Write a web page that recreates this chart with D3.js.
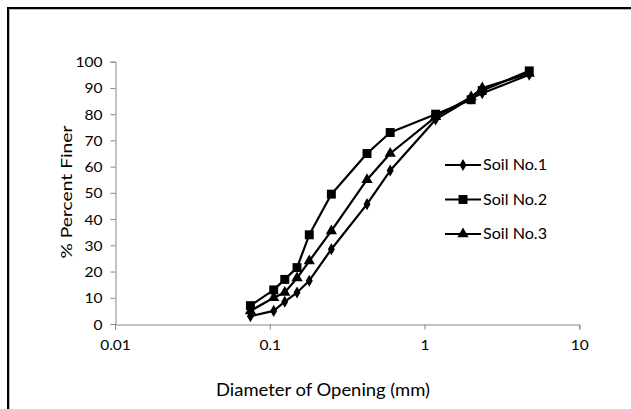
<!DOCTYPE html>
<html>
<head>
<meta charset="utf-8">
<script src="https://cdn.jsdelivr.net/npm/d3@7"></script>
<style>
  body { margin: 0; background: #fff; }
  svg { display: block; }
  text { font-family: Lato, "Open Sans", sans-serif; fill: #000; }
</style>
</head>
<body>
<svg id="chart" width="631" height="409"></svg>
<script>
// Sieve openings (mm) and cumulative percent passing for each soil
const sieveSizes = [0.075, 0.106, 0.125, 0.15, 0.18, 0.25, 0.425, 0.6, 1.18, 2.0, 2.36, 4.75];
const soil1 = [3, 5, 8.5, 12, 16.5, 28.5, 45.7, 58.5, 78, 86, 88, 95];
const soil2 = [7, 13, 17, 21.5, 34, 49.5, 65, 73, 80, 85.5, 89, 96.5];
const soil3 = [5, 10, 12, 17.5, 24, 35.5, 55, 65, 79, 86.5, 90, 95.5];
const seriesNames = ["Soil No.1", "Soil No.2", "Soil No.3"];
const xTickValues = [0.01, 0.1, 1, 10];
const xTickLabels = ["0.01", "0.1", "1", "10"];
const yTickValues = [0, 10, 20, 30, 40, 50, 60, 70, 80, 90, 100];
const xTitle = "Diameter of Opening (mm)";
const yTitle = "% Percent Finer";

const svg = d3.select("#chart");

// outer chart frame (top and left edges visible)
svg.append("path")
  .attr("d", "M9.5,409 V9.5 H631")
  .attr("fill", "none").attr("stroke", "#bbb").attr("stroke-width", 1);
svg.append("path")
  .attr("d", "M8,409 V8 H631")
  .attr("fill", "none").attr("stroke", "#000").attr("stroke-width", 2);

const x = d3.scaleLog().domain([0.01, 10]).range([115, 579.3]);
const y = d3.scaleLinear().domain([0, 100]).range([324, 61.7]);

const axisColor = "#868686";
const sx = 1.11; // horizontal widening of tick labels

// y axis
const gy = svg.append("g").attr("transform", "translate(115.5,0)")
  .call(d3.axisLeft(y).tickValues(yTickValues).tickSize(5).tickPadding(0).tickFormat(d3.format("d")));
gy.select(".domain").attr("stroke", axisColor);
gy.selectAll(".tick line").attr("stroke", axisColor);
gy.selectAll(".tick text")
  .attr("font-size", 14).attr("font-family", "Lato, sans-serif").attr("fill", "#000")
  .attr("x", -13 / sx).attr("dy", "0.36em")
  .attr("transform", `scale(${sx},1)`);

// x axis
const gx = svg.append("g").attr("transform", "translate(0,324.5)")
  .call(d3.axisBottom(x).tickValues(xTickValues).tickSize(5).tickPadding(0)
    .tickFormat((d, i) => xTickLabels[i]));
gx.select(".domain").attr("stroke", axisColor);
gx.selectAll(".tick line").attr("stroke", axisColor);
gx.selectAll(".tick text")
  .attr("font-size", 14).attr("font-family", "Lato, sans-serif").attr("fill", "#000")
  .attr("y", 20).attr("dy", "0.36em")
  .attr("transform", `scale(${sx},1)`);

// axis titles
svg.append("text")
  .attr("x", 323).attr("y", 396)
  .attr("text-anchor", "middle").attr("font-size", 17)
  .attr("textLength", 214).attr("lengthAdjust", "spacingAndGlyphs")
  .text(xTitle);
svg.append("text")
  .attr("transform", "translate(72,192) rotate(-90)")
  .attr("text-anchor", "middle").attr("font-size", 15)
  .attr("textLength", 133).attr("lengthAdjust", "spacingAndGlyphs")
  .text(yTitle);

// series
const series = [
  { name: seriesNames[0], values: soil1, symbol: d3.symbolDiamond, size: 42 },
  { name: seriesNames[1], values: soil2, symbol: d3.symbolSquare, size: 80 },
  { name: seriesNames[2], values: soil3, symbol: d3.symbolTriangle, size: 55 }
];

const line = d3.line().x(d => x(d[0])).y(d => y(d[1]));

series.forEach(s => {
  const pts = sieveSizes.map((d, i) => [d, s.values[i]]);
  svg.append("path")
    .attr("d", line(pts))
    .attr("fill", "none").attr("stroke", "#000").attr("stroke-width", 2.2)
    .attr("stroke-linejoin", "round");
  svg.append("g").selectAll("path")
    .data(pts).join("path")
    .attr("transform", d => `translate(${x(d[0])},${y(d[1])})`)
    .attr("d", d3.symbol().type(s.symbol).size(s.size))
    .attr("fill", "#000");
});

// legend
const legend = svg.append("g").attr("transform", "translate(445,165)");
series.forEach((s, i) => {
  const row = legend.append("g").attr("transform", `translate(0,${i * 34.5})`);
  row.append("line").attr("x1", 0).attr("x2", 36).attr("y1", 0).attr("y2", 0)
    .attr("stroke", "#000").attr("stroke-width", 2.2);
  row.append("path").attr("transform", "translate(18,0)")
    .attr("d", d3.symbol().type(s.symbol).size(s.size)).attr("fill", "#000");
  row.append("text").attr("x", 38).attr("y", 5)
    .attr("font-size", 15)
    .attr("textLength", 64).attr("lengthAdjust", "spacingAndGlyphs")
    .text(s.name);
});
</script>
</body>
</html>
